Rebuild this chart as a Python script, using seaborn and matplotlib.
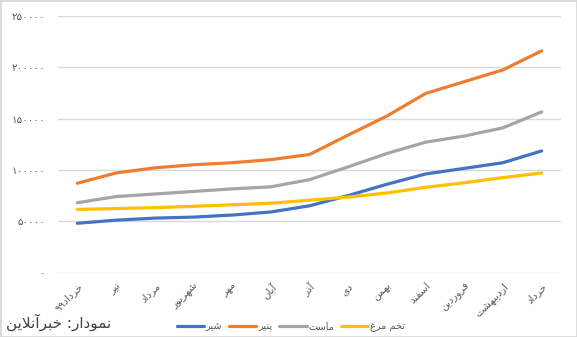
import re
import seaborn as sns
import matplotlib.pyplot as plt
import pandas as pd
from matplotlib.patches import Rectangle
from matplotlib.ticker import FuncFormatter

months = ['خرداد۹۹', 'تیر', 'مرداد', 'شهریور', 'مهر', 'آبان', 'آذر', 'دی',
          'بهمن', 'اسفند', 'فروردین', 'اردیبهشت', 'خرداد']
milk = [48000, 51000, 53000, 54000, 56000, 59000, 65000, 75000, 86000, 96000, 101500, 107000, 118500]
cheese = [87000, 97000, 102000, 105000, 107000, 110000, 115000, 134000, 152500, 174500, 186000, 197500, 216000]
yogurt = [68000, 74000, 76500, 79000, 81500, 83500, 90500, 103000, 116000, 127000, 133000, 141000, 156500]
eggs = [61500, 62300, 63200, 64500, 66000, 67500, 70500, 73500, 77500, 83000, 87500, 92500, 97000]
series = ['شیر', 'پنیر', 'ماست', 'تخم مرغ']
colors = ['#4472C4', '#ED7D31', '#A5A5A5', '#FFC000']
source = 'نمودار: خبرآنلاین'

# matplotlib has no arabic shaping, so do a small one by hand
FORMS = {
    'ا': ('\uFE8D', '\uFE8E', None, None),
    'آ': ('\uFE81', '\uFE82', None, None),
    'ب': ('\uFE8F', '\uFE90', '\uFE91', '\uFE92'),
    'پ': ('\uFB56', '\uFB57', '\uFB58', '\uFB59'),
    'ت': ('\uFE95', '\uFE96', '\uFE97', '\uFE98'),
    'خ': ('\uFEA5', '\uFEA6', '\uFEA7', '\uFEA8'),
    'د': ('\uFEA9', '\uFEAA', None, None),
    'ذ': ('\uFEAB', '\uFEAC', None, None),
    'ر': ('\uFEAD', '\uFEAE', None, None),
    'ز': ('\uFEAF', '\uFEB0', None, None),
    'س': ('\uFEB1', '\uFEB2', '\uFEB3', '\uFEB4'),
    'ش': ('\uFEB5', '\uFEB6', '\uFEB7', '\uFEB8'),
    'غ': ('\uFECD', '\uFECE', '\uFECF', '\uFED0'),
    'ف': ('\uFED1', '\uFED2', '\uFED3', '\uFED4'),
    'ل': ('\uFEDD', '\uFEDE', '\uFEDF', '\uFEE0'),
    'م': ('\uFEE1', '\uFEE2', '\uFEE3', '\uFEE4'),
    'ن': ('\uFEE5', '\uFEE6', '\uFEE7', '\uFEE8'),
    'ه': ('\uFEE9', '\uFEEA', '\uFEEB', '\uFEEC'),
    'و': ('\uFEED', '\uFEEE', None, None),
    'ی': ('\uFEEF', '\uFEF0', '\uFEF3', '\uFEF4'),
}


def fa(text):
    out = []
    i = 0
    while i < len(text):
        c = text[i]
        if c not in FORMS:
            out.append(c)
            i += 1
            continue
        prev = text[i - 1] if i > 0 else ''
        joins_prev = prev in FORMS and FORMS[prev][2] is not None
        if c == 'ل' and i + 1 < len(text) and text[i + 1] in ('ا', 'آ'):
            lig = ('\uFEFB', '\uFEFC') if text[i + 1] == 'ا' else ('\uFEF5', '\uFEF6')
            out.append(lig[1] if joins_prev else lig[0])
            i += 2
            continue
        nxt = text[i + 1] if i + 1 < len(text) else ''
        joins_next = nxt in FORMS and FORMS[c][2] is not None
        iso, fin, ini, med = FORMS[c]
        if joins_prev and joins_next:
            out.append(med)
        elif joins_prev:
            out.append(fin)
        elif joins_next:
            out.append(ini)
        else:
            out.append(iso)
        i += 1
    s = ''.join(out)[::-1]
    # keep digit runs left to right
    return re.sub('[۰-۹0-9]+', lambda m: m.group(0)[::-1], s)


def fa_num(v, pos=None):
    return str(int(v)).translate(str.maketrans('0123456789', '۰۱۲۳۴۵۶۷۸۹'))


rows = []
for name, vals in zip(series, [milk, cheese, yogurt, eggs]):
    for i, v in enumerate(vals):
        rows.append({'idx': i, 'value': v, 'item': name})
df = pd.DataFrame(rows)

sns.set_style('white')
plt.rcParams['font.family'] = ['DejaVu Sans']

fig = plt.figure(figsize=(5.77, 3.37), dpi=100)
ax = fig.add_axes([58 / 577, 1 - 272.5 / 337, 503 / 577, 256.5 / 337])

sns.lineplot(data=df, x='idx', y='value', hue='item', hue_order=series,
             palette=colors, linewidth=2.3, ax=ax, legend=False, sort=False)

ax.set_xlim(-0.5, 12.5)
ax.set_ylim(0, 250000)
ax.set_yticks(range(0, 250001, 50000))
ax.yaxis.set_major_formatter(FuncFormatter(fa_num))
ax.set_xticks(range(len(months)))
ax.set_xticklabels([fa(m) for m in months], rotation=45, ha='right',
                   rotation_mode='anchor', fontsize=7.5, color='#595959')
ax.tick_params(axis='y', labelsize=7.5, labelcolor='#595959', length=0, pad=9)
ax.tick_params(axis='x', length=0, pad=6)
ax.grid(axis='y', color='#D9D9D9', linewidth=1)
ax.set_axisbelow(True)
ax.set_xlabel('')
ax.set_ylabel('')
for sp in ax.spines.values():
    sp.set_visible(False)

handles = [plt.Line2D([], [], color=c, lw=2.3) for c in colors]
fig.legend(handles, [fa(s) for s in series], loc='center',
           bbox_to_anchor=(291 / 577, 1 - 327 / 337), ncol=4, frameon=False,
           fontsize=7, handlelength=2.8, handletextpad=0.2, columnspacing=0.7,
           labelcolor='#595959')

fig.text(6 / 577, 1 - 322 / 337, fa(source), fontsize=11, color='#404040',
         ha='left', va='center')

fig.patches.append(Rectangle((0, 0), 1, 1, transform=fig.transFigure, fill=False,
                             edgecolor='#D9D9D9', linewidth=2))

fig.savefig('out.png', dpi=100)
